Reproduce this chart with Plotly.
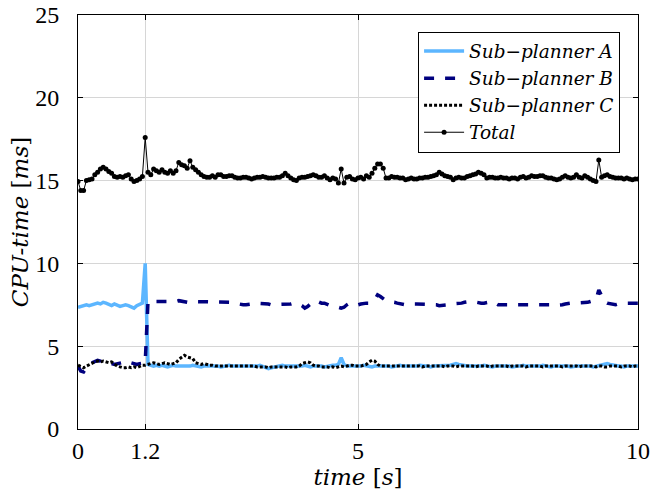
import plotly.graph_objects as go

# sample times (s), 0.05 s step
dt = 0.05
time_s = [round(i * dt, 2) for i in range(201)]

total_ms = [
    14.95, 14.4, 14.4, 15.0, 15.05, 15.1, 15.35, 15.5, 15.7, 15.8,
    15.7, 15.55, 15.45, 15.25, 15.2, 15.25, 15.2, 15.3, 15.35, 15.1,
    14.95, 15.0, 15.1, 15.25, 17.6, 15.5, 15.35, 15.7, 15.6, 15.5,
    15.65, 15.5, 15.45, 15.6, 15.45, 15.6, 16.1, 15.95, 15.9, 15.75,
    16.2, 15.8, 15.65, 15.5, 15.35, 15.25, 15.2, 15.2, 15.3, 15.2,
    15.35, 15.35, 15.25, 15.25, 15.3, 15.3, 15.2, 15.15, 15.15, 15.2,
    15.2, 15.15, 15.1, 15.15, 15.2, 15.2, 15.25, 15.2, 15.15, 15.15,
    15.15, 15.2, 15.2, 15.3, 15.45, 15.3, 15.15, 15.05, 15.0, 15.15,
    15.2, 15.2, 15.25, 15.3, 15.35, 15.3, 15.2, 15.2, 15.3, 15.15,
    15.05, 15.15, 15.1, 14.85, 15.7, 14.85, 15.2, 15.25, 15.1, 15.05,
    15.15, 15.2, 15.1, 15.3, 15.2, 15.45, 15.75, 16.0, 16.0, 15.75,
    15.15, 15.15, 15.25, 15.2, 15.2, 15.15, 15.15, 15.05, 15.1, 15.15,
    15.1, 15.1, 15.15, 15.15, 15.2, 15.2, 15.25, 15.3, 15.35, 15.5,
    15.4, 15.3, 15.25, 15.2, 15.05, 15.15, 15.2, 15.15, 15.15, 15.25,
    15.3, 15.35, 15.4, 15.5, 15.45, 15.35, 15.15, 15.2, 15.2, 15.15,
    15.15, 15.2, 15.15, 15.15, 15.1, 15.15, 15.15, 15.1, 15.2, 15.25,
    15.15, 15.2, 15.3, 15.25, 15.25, 15.3, 15.3, 15.2, 15.15, 15.15,
    15.1, 15.05, 15.1, 15.2, 15.3, 15.2, 15.15, 15.2, 15.35, 15.2,
    15.15, 15.3, 15.2, 15.1, 15.0, 14.95, 16.25, 15.2, 15.3, 15.35,
    15.25, 15.2, 15.15, 15.15, 15.15, 15.1, 15.15, 15.1, 15.05, 15.1, 15.1,
]

sub_a_ms = [
    7.35, 7.4, 7.45, 7.5, 7.45, 7.5, 7.55, 7.6, 7.55, 7.65,
    7.6, 7.5, 7.45, 7.55, 7.5, 7.4, 7.45, 7.5, 7.45, 7.35,
    7.3, 7.45, 7.5, 7.6, 10.0, 3.9, 3.85, 3.8, 3.85, 3.8,
    3.85, 3.8, 3.75, 3.8, 3.85, 3.8, 3.8, 3.75, 3.8, 3.8,
    3.8, 3.85, 3.8, 3.8, 3.75, 3.8, 3.8, 3.85, 3.8, 3.8,
    3.8, 3.75, 3.8, 3.8, 3.85, 3.8, 3.8, 3.75, 3.8, 3.8,
    3.8, 3.8, 3.75, 3.8, 3.8, 3.85, 3.8, 3.7, 3.65, 3.7,
    3.75, 3.8, 3.8, 3.85, 3.8, 3.8, 3.75, 3.8, 3.8, 3.8,
    3.8, 3.85, 3.8, 3.75, 3.8, 3.8, 3.85, 3.8, 3.75, 3.8,
    3.8, 3.85, 3.85, 3.9, 4.3, 3.9, 3.8, 3.8, 3.75, 3.8,
    3.8, 3.8, 3.85, 3.8, 3.8, 3.75, 3.8, 3.8, 3.8, 3.85,
    3.8, 3.8, 3.75, 3.8, 3.8, 3.85, 3.8, 3.8, 3.75, 3.8,
    3.8, 3.8, 3.85, 3.8, 3.8, 3.8, 3.75, 3.8, 3.8, 3.85,
    3.8, 3.8, 3.8, 3.85, 3.9, 3.95, 3.9, 3.85, 3.8, 3.8,
    3.8, 3.8, 3.75, 3.8, 3.8, 3.85, 3.8, 3.8, 3.75, 3.8,
    3.8, 3.8, 3.85, 3.8, 3.8, 3.75, 3.8, 3.8, 3.8, 3.85,
    3.8, 3.8, 3.75, 3.8, 3.8, 3.8, 3.85, 3.8, 3.8, 3.75,
    3.8, 3.8, 3.85, 3.8, 3.8, 3.8, 3.75, 3.8, 3.8, 3.8,
    3.8, 3.85, 3.8, 3.8, 3.75, 3.8, 3.85, 3.9, 3.9, 3.95,
    3.9, 3.85, 3.8, 3.8, 3.8, 3.75, 3.8, 3.8, 3.75, 3.8, 3.8,
]

sub_b_ms = [
    3.8, 3.5, 3.45, 3.7, 3.9, 4.0, 4.1, 4.15, 4.1, 4.0,
    3.95, 3.9, 3.95, 3.9, 3.95, 4.0, 4.05, 4.05, 4.1, 4.0,
    3.95, 3.9, 3.95, 3.95, 4.0, 7.7, 7.7, 7.65, 7.7, 7.7,
    7.7, 7.7, 7.65, 7.7, 7.7, 7.7, 7.75, 7.7, 7.7, 7.65,
    7.7, 7.7, 7.65, 7.7, 7.7, 7.7, 7.7, 7.65, 7.7, 7.7,
    7.7, 7.7, 7.7, 7.65, 7.7, 7.65, 7.6, 7.55, 7.5, 7.5,
    7.5, 7.5, 7.55, 7.6, 7.6, 7.6, 7.6, 7.6, 7.55, 7.5,
    7.5, 7.5, 7.55, 7.5, 7.5, 7.5, 7.55, 7.6, 7.6, 7.55,
    7.45, 7.3, 7.4, 7.55, 7.7, 7.75, 7.65, 7.6, 7.6, 7.5,
    7.45, 7.4, 7.4, 7.35, 7.3, 7.35, 7.5, 7.6, 7.55, 7.5,
    7.5, 7.55, 7.6, 7.6, 7.6, 7.65, 7.8, 8.1, 8.0, 7.85,
    7.75, 7.7, 7.7, 7.65, 7.6, 7.55, 7.5, 7.5, 7.5, 7.55,
    7.55, 7.55, 7.55, 7.55, 7.55, 7.55, 7.55, 7.5, 7.5, 7.45,
    7.45, 7.45, 7.5, 7.55, 7.55, 7.55, 7.6, 7.6, 7.65, 7.7,
    7.7, 7.7, 7.65, 7.6, 7.6, 7.6, 7.65, 7.7, 7.7, 7.6,
    7.5, 7.5, 7.5, 7.5, 7.5, 7.5, 7.5, 7.5, 7.5, 7.55,
    7.55, 7.55, 7.55, 7.55, 7.55, 7.55, 7.55, 7.55, 7.5, 7.5,
    7.45, 7.45, 7.45, 7.5, 7.55, 7.6, 7.6, 7.6, 7.6, 7.6,
    7.6, 7.6, 7.65, 7.7, 7.75, 7.8, 8.4, 8.1, 7.7, 7.6,
    7.55, 7.5, 7.5, 7.55, 7.6, 7.6, 7.6, 7.6, 7.6, 7.6, 7.6,
]

sub_c_ms = [
    3.85, 3.75, 3.7, 3.8, 3.9, 4.0, 4.05, 4.1, 4.05, 4.1,
    4.05, 4.0, 4.05, 3.9, 3.8, 3.75, 3.7, 3.7, 3.75, 3.7,
    3.75, 3.7, 3.8, 3.85, 3.85, 3.9, 3.95, 4.0, 3.95, 3.9,
    3.95, 4.0, 3.95, 3.9, 3.95, 4.0, 4.2, 4.35, 4.45, 4.35,
    4.3, 4.25, 4.0, 3.95, 3.9, 3.95, 3.9, 3.85, 3.85, 3.8,
    3.8, 3.8, 3.8, 3.8, 3.8, 3.8, 3.8, 3.8, 3.8, 3.8,
    3.8, 3.8, 3.8, 3.8, 3.75, 3.75, 3.75, 3.75, 3.7, 3.75,
    3.75, 3.75, 3.75, 3.75, 3.75, 3.7, 3.75, 3.75, 3.75, 3.8,
    3.95, 4.0, 4.05, 4.0, 3.85, 3.8, 3.8, 3.75, 3.75, 3.75,
    3.7, 3.75, 3.7, 3.75, 3.8, 3.75, 3.8, 3.85, 3.85, 3.8,
    3.8, 3.8, 3.85, 3.9, 4.05, 4.15, 4.1, 3.9, 3.8, 3.8,
    3.8, 3.8, 3.8, 3.8, 3.8, 3.8, 3.8, 3.8, 3.8, 3.8,
    3.8, 3.8, 3.8, 3.75, 3.8, 3.8, 3.8, 3.8, 3.8, 3.8,
    3.8, 3.75, 3.8, 3.8, 3.8, 3.75, 3.8, 3.8, 3.8, 3.8,
    3.8, 3.8, 3.75, 3.8, 3.8, 3.8, 3.8, 3.75, 3.8, 3.8,
    3.8, 3.8, 3.8, 3.8, 3.75, 3.8, 3.8, 3.8, 3.8, 3.8,
    3.75, 3.8, 3.8, 3.8, 3.8, 3.8, 3.75, 3.8, 3.8, 3.8,
    3.8, 3.8, 3.8, 3.75, 3.8, 3.8, 3.8, 3.8, 3.8, 3.75,
    3.8, 3.8, 3.8, 3.8, 3.8, 3.75, 3.8, 3.8, 3.75, 3.75,
    3.8, 3.8, 3.8, 3.8, 3.75, 3.8, 3.8, 3.8, 3.75, 3.8, 3.8,
]

x_ticks = [0, 1.2, 5, 10]
x_tick_labels = ["0", "1.2", "5", "10"]
y_ticks = [0, 5, 10, 15, 20, 25]

series_names = ["<i>Sub−planner A</i>", "<i>Sub−planner B</i>",
                "<i>Sub−planner C</i>", "<i>Total</i>"]

FONT = "Liberation Serif"
WIDE = "DejaVu Serif"

fig = go.Figure()
fig.add_trace(go.Scatter(x=time_s, y=sub_a_ms, mode="lines", name=series_names[0],
                         line=dict(color="#5cb6ff", width=3.5)))
fig.add_trace(go.Scatter(x=time_s, y=sub_b_ms, mode="lines", name=series_names[1],
                         line=dict(color="#00007f", width=3.5, dash="10px,11px")))
fig.add_trace(go.Scatter(x=time_s, y=sub_c_ms, mode="lines", name=series_names[2],
                         line=dict(color="black", width=3, dash="3px,2px")))
fig.add_trace(go.Scatter(x=time_s, y=total_ms, mode="lines+markers", name=series_names[3],
                         line=dict(color="black", width=1),
                         marker=dict(color="black", size=5)))

axis_common = dict(
    showline=True, linecolor="black", linewidth=1, mirror="ticks",
    ticks="inside", ticklen=5, tickcolor="black",
    showgrid=True, gridcolor="#d6d6d6", gridwidth=1, zeroline=False,
    tickfont=dict(family=FONT, size=24, color="black"),
    automargin=False, ticklabeloverflow="allow",
)

fig.update_layout(
    width=650, height=498,
    margin=dict(l=78, r=12, t=15, b=69),
    paper_bgcolor="white", plot_bgcolor="white",
    font=dict(family=FONT, color="black"),
    xaxis=dict(range=[0, 10], tickvals=x_ticks, ticktext=x_tick_labels,
               ticklabelstandoff=0,
               title=dict(text="<i>time</i> [<i>s</i>]", font=dict(family=WIDE, size=23), standoff=0),
               **axis_common),
    yaxis=dict(range=[0, 25], tickvals=y_ticks, ticklabelstandoff=13,
               title=dict(text="<i>CPU-time</i> [<i>ms</i>]",
                          font=dict(family=WIDE, size=23), standoff=0),
               **axis_common),
    legend=dict(x=0.968, y=0.96, xanchor="right", yanchor="top",
                bgcolor="white", bordercolor="black", borderwidth=1,
                font=dict(family=WIDE, size=18.5, color="black"),
                tracegroupgap=0, itemwidth=40),
    showlegend=True,
)

# remove the default page margin so the 650x498 figure fills the window exactly
fig.write_html("out.html", config={"displayModeBar": False},
               post_script="document.body.style.margin='0';")
